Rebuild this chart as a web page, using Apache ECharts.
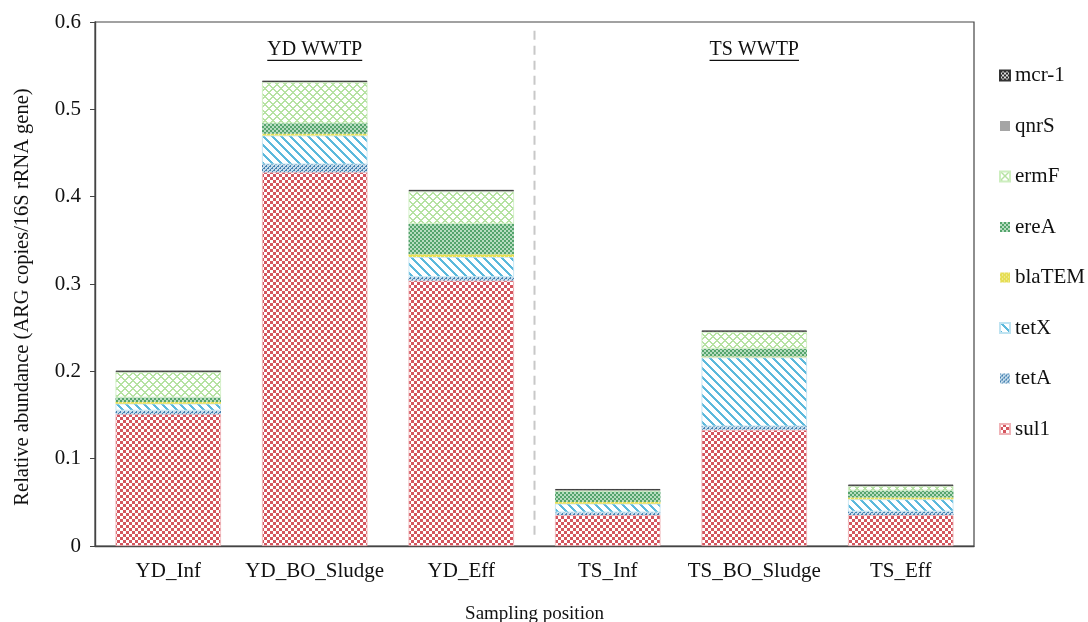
<!DOCTYPE html>
<html><head><meta charset="utf-8">
<script src="https://cdn.jsdelivr.net/npm/echarts@6/dist/echarts.min.js"></script>
<style>html,body{margin:0;padding:0;background:#fff}#c{width:1088px;height:622px}</style>
</head><body><div id="c"></div>
<script>
// ---- data ----
const categories = ['YD_Inf', 'YD_BO_Sludge', 'YD_Eff', 'TS_Inf', 'TS_BO_Sludge', 'TS_Eff'];
const sul1   = [0.151, 0.428, 0.304, 0.0355, 0.133, 0.0355];
const tetA   = [0.004, 0.009, 0.004, 0.003, 0.004, 0.004];
const tetX   = [0.008, 0.033, 0.023, 0.010, 0.079, 0.014];
const blaTEM = [0.002, 0.002, 0.003, 0.002, 0.001, 0.002];
const ereA   = [0.005, 0.012, 0.035, 0.012, 0.009, 0.008];
const ermF   = [0.029, 0.047, 0.037, 0.001, 0.019, 0.005];
const qnrS   = [0.0005, 0.0005, 0.0005, 0.0005, 0.0005, 0.0005];
const mcr1   = [0.0012, 0.0012, 0.0012, 0.0012, 0.0012, 0.0012];
const yTickValues = [0, 0.1, 0.2, 0.3, 0.4, 0.5, 0.6];
const groupLabels = ['YD WWTP', 'TS WWTP'];
const legendOrder = ['mcr-1', 'qnrS', 'ermF', 'ereA', 'blaTEM', 'tetX', 'tetA', 'sul1'];

const FONT = '"Liberation Serif", "Times New Roman", serif';

// ---- patterns ----
function pat(w, h, draw) {
  const c = document.createElement('canvas');
  c.width = w; c.height = h;
  const g = c.getContext('2d');
  draw(g, w, h);
  return { image: c, repeat: 'repeat' };
}
function px(g, col, x, y, w, h) { g.fillStyle = col; g.fillRect(x, y, w || 1, h || 1); }

const pSul1 = pat(6, 6, (g) => {
  px(g, '#d4565f', 0, 0, 6, 6);
  px(g, '#ffffff', 0, 0, 3, 3); px(g, '#ffffff', 3, 3, 3, 3);
});
const pTetA = pat(4, 4, (g) => {
  px(g, '#c6dcec', 0, 0, 4, 4);
  for (let i = 0; i < 4; i++) { px(g, '#4682b0', 3 - i, i); }
  px(g, '#4682b0', 0, 0); px(g, '#4682b0', 2, 2);
});
const pTetX = pat(9, 9, (g) => {
  px(g, '#ffffff', 0, 0, 9, 9);
  for (let y = 0; y < 9; y++) for (let k = 0; k < 3; k++) px(g, '#5cb9dc', (y + k) % 9, y);
});
const pBla = pat(4, 4, (g) => {
  px(g, '#e6de55', 0, 0, 4, 4);
  px(g, '#f8f4c0', 0, 0); px(g, '#f8f4c0', 2, 2);
});
const pEreA = pat(4, 4, (g) => {
  px(g, '#b7dcc0', 0, 0, 4, 4);
  px(g, '#54a46c', 0, 0, 2, 2); px(g, '#54a46c', 2, 2, 2, 2);
});
const pErmF = pat(8, 8, (g) => {
  px(g, '#ffffff', 0, 0, 8, 8);
  for (let y = 0; y < 8; y++) for (let x = 0; x < 8; x++) {
    const a = (x + y) % 8, b = (x - y + 8) % 8;
    if (a <= 1 || b <= 1) px(g, '#b6e2a2', x, y);
  }
});
const pQnr = '#a5a5a5';
const pMcr = pat(4, 4, (g) => {
  px(g, '#e0e0e0', 0, 0, 4, 4);
  px(g, '#2b2b2b', 0, 0, 2, 2); px(g, '#2b2b2b', 2, 2, 2, 2);
});

function bar(name, data, color, border) {
  return {
    name, type: 'bar', stack: 'total', data, barWidth: '72%',
    itemStyle: { color, borderColor: border, borderWidth: border ? 0.8 : 0 },
    emphasis: { disabled: true }
  };
}

const chart = echarts.init(document.getElementById('c'), null, { renderer: 'canvas' });
chart.setOption({
  animation: false,
  backgroundColor: '#fff',
  textStyle: { fontFamily: FONT },
  grid: { left: 95, right: 114, top: 22, bottom: 76, show: true, borderColor: '#444', borderWidth: 1.2,
          containLabel: false, outerBoundsMode: 'none' },
  legend: {
    data: legendOrder, orient: 'vertical', left: 994, top: 60, itemGap: 29.5,
    itemWidth: 10, itemHeight: 10, icon: 'rect', selectedMode: false,
    textStyle: { fontFamily: FONT, fontSize: 21, color: '#111' }
  },
  xAxis: {
    type: 'category', data: categories,
    name: 'Sampling position', nameLocation: 'middle', nameGap: 59,
    nameTextStyle: { fontFamily: FONT, fontSize: 19, color: '#111' },
    axisLine: { lineStyle: { color: '#444', width: 1.4 } },
    axisTick: { alignWithLabel: true, length: 5, lineStyle: { color: '#444' } },
    axisLabel: { interval: 0, fontFamily: FONT, fontSize: 21, color: '#111', margin: 15 }
  },
  yAxis: {
    type: 'value', min: 0, max: 0.6, interval: 0.1,
    name: 'Relative abundance (ARG copies/16S rRNA gene)', nameLocation: 'middle', nameGap: 62,
    nameTextStyle: { fontFamily: FONT, fontSize: 20.5, color: '#111', padding: [0, 26, 0, 0] },
    axisLine: { show: true, lineStyle: { color: '#444', width: 1.4 } },
    axisTick: { show: true, length: 5, lineStyle: { color: '#444' } },
    splitLine: { show: false },
    axisLabel: {
      fontFamily: FONT, fontSize: 21, color: '#111', margin: 14,
      formatter: (v) => { const t = yTickValues.find(x => Math.abs(x - v) < 1e-9); return t === undefined ? '' : String(t); }
    }
  },
  series: [
    bar('sul1', sul1, pSul1, '#f0b4b8'),
    bar('tetA', tetA, pTetA),
    bar('tetX', tetX, pTetX, '#bfe3f1'),
    bar('blaTEM', blaTEM, pBla),
    bar('ereA', ereA, pEreA),
    bar('ermF', ermF, pErmF, '#cdeebf'),
    bar('qnrS', qnrS, pQnr),
    bar('mcr-1', mcr1, pMcr, '#333')
  ]
});

// ---- annotations positioned through the axes ----
function addAnnotations() {
  const xa = chart.convertToPixel({ xAxisIndex: 0 }, categories[2]);
  const xb = chart.convertToPixel({ xAxisIndex: 0 }, categories[3]);
  const xMid = (xa + xb) / 2;
  const yTop = chart.convertToPixel({ yAxisIndex: 0 }, 0.59);
  const yBot = chart.convertToPixel({ yAxisIndex: 0 }, 0.007);
  const yLab = chart.convertToPixel({ yAxisIndex: 0 }, 0.568);
  const F = '20px ' + FONT;
  const mc = document.createElement('canvas').getContext('2d');
  mc.font = F;
  const g = [{
    type: 'line', shape: { x1: xMid, y1: yTop, x2: xMid, y2: yBot },
    style: { stroke: '#c8c8c8', lineWidth: 2, lineDash: [9, 6] }, silent: true
  }];
  [[1, groupLabels[0]], [4, groupLabels[1]]].forEach(([ci, txt]) => {
    const cx = chart.convertToPixel({ xAxisIndex: 0 }, categories[ci]);
    const w = mc.measureText(txt).width;
    g.push({ type: 'text', x: cx, y: yLab, style: { text: txt, font: F, fill: '#111', align: 'center', verticalAlign: 'middle' }, silent: true });
    g.push({ type: 'line', shape: { x1: cx - w / 2, y1: yLab + 10.5, x2: cx + w / 2, y2: yLab + 10.5 }, style: { stroke: '#111', lineWidth: 1.2 }, silent: true });
  });
  chart.setOption({ graphic: g });
}
addAnnotations();
</script></body></html>
